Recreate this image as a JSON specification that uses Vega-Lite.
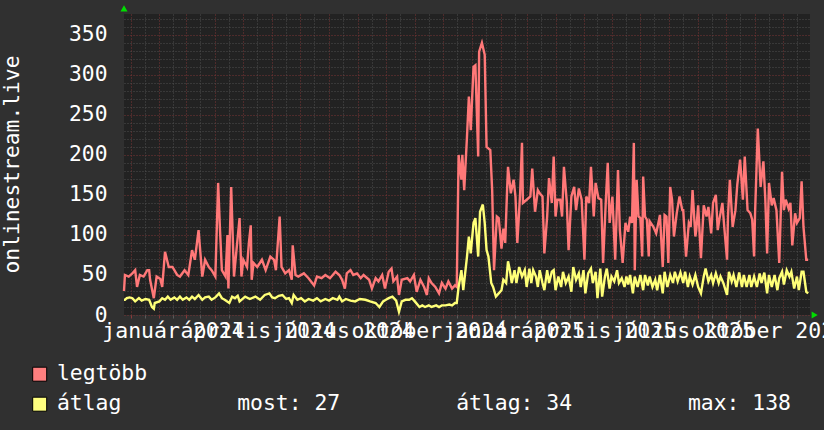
{
  "$schema": "https://vega.github.io/schema/vega-lite/v6.json",
  "width": 686,
  "height": 301,
  "autosize": {"type": "none"},
  "padding": {"left": 124, "top": 14, "right": 14, "bottom": 115},
  "background": "#303030",
  "config": {
    "view": {"fill": "#222222", "stroke": null},
    "font": "DejaVu Sans Mono",
    "axis": {"labelFont": "DejaVu Sans Mono", "titleFont": "DejaVu Sans Mono", "labelColor": "#ffffff", "titleColor": "#ffffff", "domain": false},
    "legend": {"labelFont": "DejaVu Sans Mono"}
  },
  "resolve": {"axis": {"x": "independent", "y": "independent"}},
  "datasets": {
    "legtobb": [
      {"n":0,"v":30},{"n":1,"v":50},{"n":5,"v":48},{"n":9,"v":52},{"n":12,"v":56},{"n":14,"v":35},{"n":17,"v":50},{"n":21,"v":48},{"n":23,"v":52},{"n":25,"v":56},{"n":27,"v":56},{"n":28,"v":44},{"n":32,"v":21},{"n":35,"v":48},{"n":39,"v":45},{"n":41,"v":35},{"n":44,"v":79},{"n":48,"v":60},{"n":52,"v":60},{"n":57,"v":50},{"n":60,"v":48},{"n":65,"v":56},{"n":69,"v":50},{"n":73,"v":81},{"n":76,"v":69},{"n":80,"v":106},{"n":84,"v":48},{"n":87,"v":69},{"n":91,"v":60},{"n":94,"v":56},{"n":98,"v":48},{"n":101,"v":165},{"n":103,"v":106},{"n":105,"v":56},{"n":109,"v":48},{"n":111,"v":100},{"n":112,"v":33},{"n":115,"v":160},{"n":118,"v":48},{"n":121,"v":85},{"n":124,"v":121},{"n":126,"v":48},{"n":128,"v":69},{"n":132,"v":60},{"n":134,"v":90},{"n":136,"v":112},{"n":137,"v":44},{"n":139,"v":65},{"n":143,"v":60},{"n":148,"v":69},{"n":152,"v":56},{"n":157,"v":73},{"n":161,"v":69},{"n":163,"v":56},{"n":167,"v":123},{"n":169,"v":60},{"n":173,"v":52},{"n":177,"v":56},{"n":180,"v":44},{"n":181,"v":87},{"n":184,"v":50},{"n":187,"v":48},{"n":193,"v":52},{"n":198,"v":46},{"n":204,"v":37},{"n":207,"v":48},{"n":212,"v":46},{"n":216,"v":50},{"n":221,"v":46},{"n":227,"v":54},{"n":231,"v":50},{"n":234,"v":44},{"n":237,"v":33},{"n":239,"v":52},{"n":243,"v":56},{"n":246,"v":50},{"n":250,"v":52},{"n":254,"v":46},{"n":257,"v":50},{"n":263,"v":44},{"n":266,"v":33},{"n":270,"v":46},{"n":273,"v":42},{"n":277,"v":50},{"n":280,"v":33},{"n":284,"v":54},{"n":287,"v":58},{"n":289,"v":42},{"n":293,"v":48},{"n":295,"v":25},{"n":298,"v":44},{"n":304,"v":46},{"n":307,"v":42},{"n":311,"v":50},{"n":314,"v":29},{"n":318,"v":44},{"n":322,"v":35},{"n":325,"v":25},{"n":327,"v":46},{"n":330,"v":40},{"n":334,"v":35},{"n":338,"v":27},{"n":341,"v":40},{"n":345,"v":33},{"n":348,"v":42},{"n":352,"v":33},{"n":355,"v":37},{"n":357,"v":35},
      {"n":359,"v":200},{"n":362,"v":169},{"n":363,"v":200},{"n":365,"v":156},{"n":368,"v":223},{"n":370,"v":273},{"n":372,"v":231},{"n":375,"v":310},{"n":377,"v":312},{"n":380,"v":198},{"n":381,"v":329},{"n":384,"v":340},{"n":387,"v":325},{"n":389,"v":210},{"n":393,"v":206},{"n":395,"v":156},{"n":397,"v":56},{"n":400,"v":123},{"n":402,"v":121},{"n":405,"v":83},{"n":407,"v":108},{"n":409,"v":90},{"n":411,"v":156},{"n":412,"v":185},{"n":415,"v":152},{"n":418,"v":169},{"n":420,"v":148},{"n":422,"v":90},{"n":425,"v":152},{"n":427,"v":215},{"n":428,"v":140},{"n":432,"v":144},{"n":436,"v":148},{"n":438,"v":183},{"n":441,"v":129},{"n":444,"v":156},{"n":446,"v":152},{"n":449,"v":148},{"n":451,"v":77},{"n":454,"v":123},{"n":456,"v":171},{"n":459,"v":140},{"n":461,"v":198},{"n":463,"v":123},{"n":465,"v":144},{"n":468,"v":144},{"n":470,"v":123},{"n":472,"v":185},{"n":475,"v":142},{"n":477,"v":81},{"n":480,"v":148},{"n":483,"v":160},{"n":485,"v":131},{"n":488,"v":158},{"n":491,"v":144},{"n":494,"v":69},{"n":496,"v":148},{"n":499,"v":140},{"n":501,"v":185},{"n":504,"v":123},{"n":506,"v":165},{"n":509,"v":146},{"n":512,"v":144},{"n":514,"v":65},{"n":517,"v":144},{"n":519,"v":190},{"n":521,"v":115},{"n":524,"v":148},{"n":527,"v":69},{"n":530,"v":181},{"n":532,"v":106},{"n":535,"v":65},{"n":538,"v":115},{"n":541,"v":104},{"n":543,"v":123},{"n":545,"v":115},{"n":547,"v":215},{"n":548,"v":56},{"n":550,"v":169},{"n":552,"v":123},{"n":554,"v":121},{"n":556,"v":73},{"n":557,"v":173},{"n":559,"v":123},{"n":561,"v":119},{"n":563,"v":73},{"n":564,"v":117},{"n":568,"v":110},{"n":571,"v":102},{"n":574,"v":119},{"n":575,"v":125},{"n":578,"v":60},{"n":580,"v":125},{"n":582,"v":123},{"n":584,"v":65},{"n":586,"v":160},{"n":588,"v":144},{"n":590,"v":98},{"n":593,"v":127},{"n":596,"v":148},{"n":599,"v":131},{"n":600,"v":131},{"n":603,"v":73},{"n":606,"v":115},{"n":608,"v":110},{"n":610,"v":156},{"n":613,"v":98},{"n":614,"v":106},{"n":616,"v":137},{"n":619,"v":71},{"n":622,"v":137},{"n":625,"v":123},{"n":627,"v":135},{"n":630,"v":102},{"n":632,"v":140},{"n":635,"v":150},{"n":637,"v":106},{"n":639,"v":121},{"n":642,"v":140},{"n":644,"v":110},{"n":647,"v":69},{"n":648,"v":123},{"n":650,"v":169},{"n":653,"v":110},{"n":656,"v":131},{"n":658,"v":163},{"n":661,"v":194},{"n":664,"v":144},{"n":666,"v":198},{"n":669,"v":131},{"n":672,"v":127},{"n":674,"v":119},{"n":676,"v":73},{"n":677,"v":125},{"n":680,"v":233},{"n":683,"v":160},{"n":686,"v":192},{"n":688,"v":146},{"n":690,"v":77},{"n":692,"v":165},{"n":695,"v":137},{"n":697,"v":146},{"n":700,"v":131},{"n":703,"v":65},{"n":706,"v":179},{"n":708,"v":131},{"n":710,"v":144},{"n":713,"v":133},{"n":715,"v":140},{"n":717,"v":87},{"n":720,"v":127},{"n":722,"v":115},{"n":725,"v":121},{"n":727,"v":167},{"n":729,"v":110},{"n":732,"v":69},{"n":734,"v":69}
    ],
    "atlag": [
      {"n":0,"v":19},{"n":1,"v":19},{"n":3,"v":21},{"n":6,"v":22},{"n":9,"v":21},{"n":12,"v":17},{"n":16,"v":21},{"n":19,"v":18},{"n":23,"v":20},{"n":27,"v":19},{"n":30,"v":10},{"n":32,"v":8},{"n":33,"v":15},{"n":38,"v":17},{"n":41,"v":21},{"n":44,"v":19},{"n":47,"v":23},{"n":50,"v":19},{"n":54,"v":22},{"n":57,"v":19},{"n":60,"v":23},{"n":63,"v":19},{"n":67,"v":22},{"n":70,"v":19},{"n":73,"v":23},{"n":76,"v":20},{"n":80,"v":25},{"n":84,"v":19},{"n":87,"v":22},{"n":91,"v":23},{"n":94,"v":19},{"n":98,"v":22},{"n":102,"v":27},{"n":105,"v":21},{"n":108,"v":19},{"n":113,"v":15},{"n":116,"v":23},{"n":119,"v":21},{"n":122,"v":24},{"n":124,"v":17},{"n":130,"v":23},{"n":135,"v":20},{"n":141,"v":23},{"n":146,"v":19},{"n":151,"v":25},{"n":156,"v":27},{"n":159,"v":22},{"n":162,"v":21},{"n":166,"v":24},{"n":170,"v":25},{"n":174,"v":20},{"n":177,"v":21},{"n":180,"v":15},{"n":182,"v":25},{"n":186,"v":19},{"n":190,"v":21},{"n":194,"v":17},{"n":198,"v":20},{"n":203,"v":18},{"n":207,"v":21},{"n":211,"v":17},{"n":216,"v":20},{"n":220,"v":18},{"n":224,"v":21},{"n":229,"v":19},{"n":231,"v":23},{"n":234,"v":17},{"n":238,"v":20},{"n":243,"v":18},{"n":248,"v":17},{"n":253,"v":20},{"n":259,"v":19},{"n":264,"v":17},{"n":270,"v":15},{"n":274,"v":10},{"n":278,"v":17},{"n":281,"v":19},{"n":284,"v":21},{"n":288,"v":23},{"n":292,"v":18},{"n":295,"v":4},{"n":298,"v":17},{"n":302,"v":19},{"n":306,"v":19},{"n":309,"v":21},{"n":312,"v":17},{"n":317,"v":10},{"n":320,"v":12},{"n":323,"v":10},{"n":327,"v":12},{"n":330,"v":10},{"n":335,"v":12},{"n":338,"v":10},{"n":341,"v":12},{"n":345,"v":12},{"n":349,"v":13},{"n":352,"v":12},{"n":355,"v":15},{"n":357,"v":15},
      {"n":359,"v":35},{"n":362,"v":56},{"n":364,"v":31},{"n":368,"v":73},{"n":370,"v":98},{"n":372,"v":77},{"n":375,"v":115},{"n":377,"v":121},{"n":380,"v":73},{"n":382,"v":129},{"n":385,"v":138},{"n":387,"v":115},{"n":389,"v":81},{"n":391,"v":73},{"n":394,"v":40},{"n":396,"v":35},{"n":399,"v":23},{"n":402,"v":27},{"n":405,"v":31},{"n":407,"v":44},{"n":410,"v":40},{"n":412,"v":67},{"n":414,"v":56},{"n":416,"v":40},{"n":419,"v":56},{"n":421,"v":40},{"n":424,"v":60},{"n":427,"v":48},{"n":430,"v":56},{"n":432,"v":35},{"n":435,"v":58},{"n":437,"v":40},{"n":439,"v":56},{"n":442,"v":48},{"n":444,"v":35},{"n":446,"v":56},{"n":449,"v":40},{"n":451,"v":31},{"n":454,"v":56},{"n":456,"v":40},{"n":459,"v":54},{"n":461,"v":56},{"n":463,"v":31},{"n":466,"v":48},{"n":469,"v":35},{"n":471,"v":54},{"n":474,"v":40},{"n":477,"v":48},{"n":480,"v":29},{"n":482,"v":60},{"n":485,"v":44},{"n":488,"v":52},{"n":490,"v":35},{"n":493,"v":56},{"n":495,"v":27},{"n":498,"v":52},{"n":501,"v":58},{"n":503,"v":40},{"n":506,"v":54},{"n":508,"v":21},{"n":511,"v":58},{"n":513,"v":23},{"n":516,"v":48},{"n":518,"v":58},{"n":521,"v":33},{"n":523,"v":48},{"n":526,"v":42},{"n":529,"v":56},{"n":531,"v":40},{"n":534,"v":46},{"n":537,"v":35},{"n":539,"v":48},{"n":541,"v":38},{"n":543,"v":50},{"n":546,"v":27},{"n":548,"v":48},{"n":551,"v":35},{"n":554,"v":50},{"n":557,"v":31},{"n":559,"v":50},{"n":562,"v":37},{"n":564,"v":48},{"n":567,"v":35},{"n":570,"v":44},{"n":572,"v":31},{"n":575,"v":50},{"n":578,"v":27},{"n":580,"v":54},{"n":583,"v":35},{"n":586,"v":50},{"n":589,"v":40},{"n":591,"v":54},{"n":594,"v":42},{"n":597,"v":53},{"n":600,"v":40},{"n":602,"v":54},{"n":605,"v":35},{"n":607,"v":48},{"n":610,"v":38},{"n":613,"v":50},{"n":616,"v":35},{"n":619,"v":27},{"n":622,"v":48},{"n":624,"v":58},{"n":627,"v":42},{"n":630,"v":50},{"n":632,"v":40},{"n":635,"v":52},{"n":638,"v":40},{"n":640,"v":48},{"n":643,"v":40},{"n":647,"v":25},{"n":649,"v":54},{"n":652,"v":42},{"n":654,"v":50},{"n":657,"v":35},{"n":660,"v":53},{"n":663,"v":35},{"n":665,"v":50},{"n":668,"v":35},{"n":671,"v":50},{"n":673,"v":35},{"n":676,"v":48},{"n":679,"v":35},{"n":682,"v":52},{"n":684,"v":40},{"n":687,"v":53},{"n":690,"v":27},{"n":692,"v":50},{"n":695,"v":35},{"n":698,"v":50},{"n":701,"v":31},{"n":703,"v":46},{"n":706,"v":54},{"n":708,"v":38},{"n":711,"v":56},{"n":714,"v":48},{"n":716,"v":54},{"n":719,"v":33},{"n":722,"v":48},{"n":724,"v":31},{"n":727,"v":54},{"n":729,"v":54},{"n":732,"v":29},{"n":734,"v":27}
    ],
    "sorok": [{"s": "legtöbb"}, {"s": "átlag"}]
  },
  "layer": [
    {
      "data": {"name": "legtobb"},
      "mark": {"type": "line", "strokeWidth": 2.4, "interpolate": "linear", "color": "#ff7878"},
      "encoding": {
        "x": {"field": "n", "type": "quantitative", "scale": {"domain": [0, 736], "nice": false, "zero": false},
          "axis": {"orient": "bottom", "title": null, "labels": false, "domain": false, "values": [22,53,82,113,143,174,204,235,266,296,327,357,388,419,447,478,508,539,569,600,631,661,692,722], "grid": true, "gridColor": "#4e4e4e", "gridDash": [1, 2], "gridWidth": 1, "ticks": true, "tickColor": "#5a5a5a", "tickSize": 3}},
        "y": {"field": "v", "type": "quantitative", "scale": {"domain": [0, 376], "nice": false, "zero": true},
          "axis": {"orient": "left", "title": null, "labels": false, "domain": false, "ticks": false, "values": [10,20,30,40,60,70,80,90,110,120,130,140,160,170,180,190,210,220,230,240,260,270,280,290,310,320,330,340,360,370], "grid": true, "gridColor": "#4e4e4e", "gridDash": [1, 2], "gridWidth": 1}}
      }
    },
    {
      "data": {"name": "atlag"},
      "mark": {"type": "line", "strokeWidth": 2.4, "interpolate": "linear", "color": "#ffff78"},
      "encoding": {
        "x": {"field": "n", "type": "quantitative", "scale": {"domain": [0, 736], "nice": false, "zero": false},
          "axis": {"orient": "bottom", "title": null, "labels": false, "domain": false, "values": [7,38,67,98,128,159,189,220,251,281,312,342,373,404,432,463,493,524,554,585,616,646,677,707], "grid": true, "gridColor": "#7a3434", "gridDash": [1, 2], "gridWidth": 1, "ticks": true, "tickColor": "#8a3a3a", "tickSize": 3}},
        "y": {"field": "v", "type": "quantitative", "scale": {"domain": [0, 376], "nice": false, "zero": true},
          "axis": {"orient": "left", "title": null, "labels": false, "domain": false, "ticks": false, "values": [0,50,100,150,200,250,300,350], "grid": true, "gridColor": "#7a3434", "gridDash": [1, 2], "gridWidth": 1}}
      }
    },
    {
      "data": {"name": "sorok"},
      "mark": {"type": "square", "opacity": 0},
      "encoding": {
        "x": {"datum": 0, "type": "quantitative", "scale": {"domain": [0, 736], "nice": false, "zero": false},
          "axis": {"orient": "bottom", "title": null, "grid": false, "ticks": false, "domain": false, "values": [52.5,143.5,235,327,418,508.5,600,692],
            "labelExpr": "['január 2024','április 2024','július 2024','október 2024','január 2025','április 2025','július 2025','október 2025'][round((datum.value-52.5)/91.93)]",
            "labelOverlap": false, "labelFlush": false, "labelBound": false, "labelLimit": 0, "labelFontSize": 21.5, "labelColor": "#ffffff", "labelBaseline": "alphabetic", "labelAlign": "center", "labelPadding": 22}},
        "y": {"datum": 0, "type": "quantitative", "scale": {"domain": [0, 376], "nice": false, "zero": true},
          "axis": {"orient": "left", "title": "onlinestream.live", "titleFontSize": 21.3, "titleFontWeight": "normal", "titleColor": "#ffffff", "titleX": -106, "titleY": 150, "titleAngle": 270, "titleBaseline": "alphabetic", "titleAlign": "center",
            "grid": false, "ticks": false, "domain": false, "values": [0,50,100,150,200,250,300,350], "labelFontSize": 21.3, "labelColor": "#ffffff", "labelPadding": 17, "labelOverlap": false, "labelFlush": false}},
        "fill": {"field": "s", "type": "nominal", "scale": {"domain": ["legtöbb", "átlag"], "range": ["#ff7f7f", "#ffff7f"]},
          "legend": {"orient": "none", "legendX": -95, "legendY": 349.5, "title": null, "direction": "vertical", "padding": 0,
            "symbolType": "square", "symbolSize": 196, "symbolStrokeColor": "#000000", "symbolStrokeWidth": 1, "symbolOpacity": 1,
            "labelFontSize": 21.4, "labelColor": "#ffffff", "labelLimit": 0, "labelOffset": 6.5, "rowPadding": 7,
            "labelExpr": "datum.label == 'átlag' ? 'átlag\u00a0\u00a0\u00a0\u00a0\u00a0\u00a0\u00a0\u00a0\u00a0most: 27\u00a0\u00a0\u00a0\u00a0\u00a0\u00a0\u00a0\u00a0\u00a0átlag: 34\u00a0\u00a0\u00a0\u00a0\u00a0\u00a0\u00a0\u00a0\u00a0max: 138' : datum.label"}}
      }
    },
    {
      "data": {"values": [{}]},
      "mark": {"type": "point", "shape": "triangle-up", "filled": true, "color": "#00dd00", "opacity": 1, "size": 50},
      "encoding": {
        "x": {"datum": 0, "type": "quantitative", "scale": {"domain": [0, 736], "nice": false, "zero": false}, "axis": null},
        "y": {"datum": 383, "type": "quantitative", "scale": {"domain": [0, 376], "nice": false, "zero": true}, "axis": null}
      }
    },
    {
      "data": {"values": [{}]},
      "mark": {"type": "point", "shape": "triangle-right", "filled": true, "color": "#00dd00", "opacity": 1, "size": 50},
      "encoding": {
        "x": {"datum": 741, "type": "quantitative", "scale": {"domain": [0, 736], "nice": false, "zero": false}, "axis": null},
        "y": {"datum": 0, "type": "quantitative", "scale": {"domain": [0, 376], "nice": false, "zero": true}, "axis": null}
      }
    }
  ]
}
